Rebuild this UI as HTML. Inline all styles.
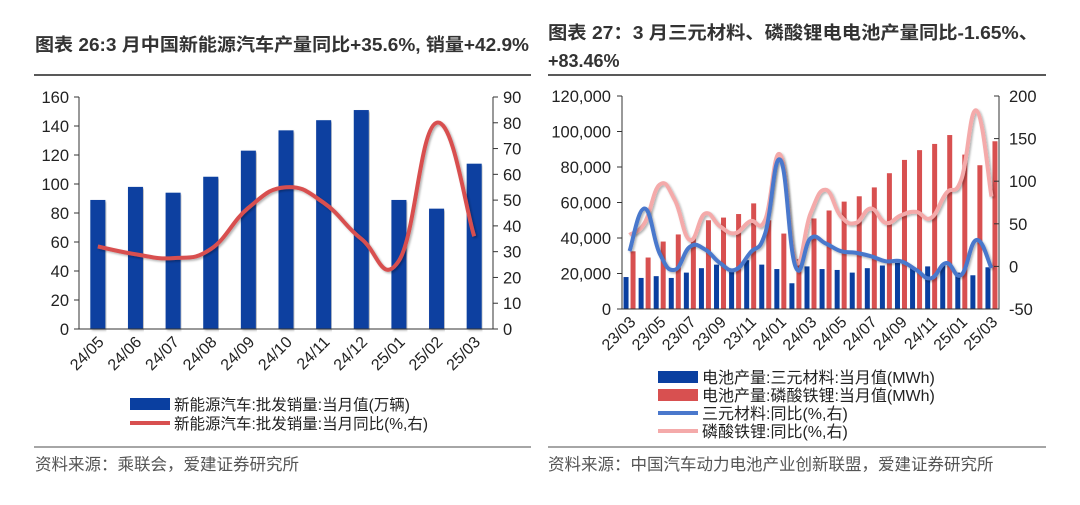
<!DOCTYPE html>
<html><head><meta charset="utf-8">
<style>
html,body{margin:0;padding:0;background:#fff;}
body{width:1080px;height:500px;overflow:hidden;font-family:"Liberation Sans","Noto Sans CJK SC",sans-serif;}
</style></head>
<body>
<svg id="s" width="1080" height="500" xmlns="http://www.w3.org/2000/svg" font-family="Liberation Sans, Noto Sans CJK SC, sans-serif">
<defs><filter id="sh" x="-5%" y="-5%" width="110%" height="120%"><feDropShadow dx="1.5" dy="1.5" stdDeviation="1" flood-color="#000" flood-opacity="0.3"/></filter></defs>
<text x="35" y="51" font-size="18" font-weight="bold" fill="#333" textLength="494" lengthAdjust="spacingAndGlyphs">图表 26:3 月中国新能源汽车产量同比+35.6%, 销量+42.9%</text>
<line x1="34" y1="75" x2="531" y2="75" stroke="#222" stroke-width="1.5"/>
<text x="548" y="39" font-size="18" font-weight="bold" fill="#333" textLength="490" lengthAdjust="spacingAndGlyphs">图表 27：3 月三元材料、磷酸锂电电池产量同比-1.65%、</text>
<text x="548" y="67" font-size="18" font-weight="bold" fill="#333">+83.46%</text>
<line x1="548" y1="75" x2="1046" y2="75" stroke="#222" stroke-width="1.5"/>
<line x1="34" y1="447" x2="531" y2="447" stroke="#888" stroke-width="1.5"/>
<line x1="548" y1="447" x2="1046" y2="447" stroke="#888" stroke-width="1.5"/>
<text x="35" y="470" font-size="16.5" fill="#555">资料来源：乘联会，爱建证券研究所</text>
<text x="548" y="470" font-size="16.5" fill="#555">资料来源：中国汽车动力电池产业创新联盟，爱建证券研究所</text>
<g id="L"></g>
<g id="R"></g>
<g>
<rect x="130" y="398" width="40" height="12" fill="#0a3fa0"/>
<text x="174" y="410" font-size="15.5" fill="#222">新能源汽车:批发销量:当月值(万辆)</text>
<line x1="130" y1="423" x2="170" y2="423" stroke="#d85050" stroke-width="4"/>
<text x="174" y="429" font-size="15.5" fill="#222">新能源汽车:批发销量:当月同比(%,右)</text>
</g>
<g>
<rect x="658" y="371" width="40" height="12" fill="#0a3fa0"/>
<text x="702" y="383" font-size="16" fill="#222">电池产量:三元材料:当月值(MWh)</text>
<rect x="658" y="389" width="40" height="12" fill="#d85050"/>
<text x="702" y="401" font-size="16" fill="#222">电池产量:磷酸铁锂:当月值(MWh)</text>
<line x1="658" y1="413" x2="698" y2="413" stroke="#4a78cc" stroke-width="4"/>
<text x="702" y="419" font-size="16" fill="#222">三元材料:同比(%,右)</text>
<line x1="658" y1="431" x2="698" y2="431" stroke="#f4aaaa" stroke-width="4"/>
<text x="702" y="437" font-size="16" fill="#222">磷酸铁锂:同比(%,右)</text>
</g>
</svg>
<script>
const leftCategories=["24/05","24/06","24/07","24/08","24/09","24/10","24/11","24/12","25/01","25/02","25/03"];
const leftSales=[89,98,94,105,123,137,144,151,89,83,114];
const leftYoy=[32,29,27.5,31,47,55,49,35,26.5,80,36];
const leftTicks=[0,20,40,60,80,100,120,140,160];
const leftRightTicks=[0,10,20,30,40,50,60,70,80,90];

const rightCategories=["23/03","23/04","23/05","23/06","23/07","23/08","23/09","23/10","23/11","23/12","24/01","24/02","24/03","24/04","24/05","24/06","24/07","24/08","24/09","24/10","24/11","24/12","25/01","25/02","25/03"];
const ncmOutput=[18000,17500,18500,17500,20500,23000,25000,22000,27500,25000,22500,14500,24000,22500,22000,20500,23000,24500,26000,23500,24000,25000,20500,19000,23500];
const lfpOutput=[32500,29000,38000,42000,40000,50000,51500,53500,59500,50000,42500,28000,51000,55500,60500,63500,68500,76500,84000,89500,93000,98000,87000,81000,94500];
const ncmYoy=[18,68,15,-4,23,20,4,-4,16,39,125,0,33,27,18,16,12,6,6,-4,-14,4,-10,31,-2];
const lfpYoy=[37,51,96,78,31,62,47,39,53,55,131,6,62,90,59,51,68,51,60,64,57,86,102,183,82];
const rightTicks=[0,20000,40000,60000,80000,100000,120000];
const rightRightTicks=[-50,0,50,100,150,200];
const rightLabelEvery=2;

const NS="http://www.w3.org/2000/svg";
function mk(p,tag,attrs,txt){const e=document.createElementNS(NS,tag);for(const k in attrs)e.setAttribute(k,attrs[k]);if(txt!==undefined)e.textContent=txt;p.appendChild(e);return e;}
function smooth(pts){let d="M"+pts[0][0]+","+pts[0][1];for(let i=0;i<pts.length-1;i++){const p0=pts[Math.max(0,i-1)],p1=pts[i],p2=pts[i+1],p3=pts[Math.min(pts.length-1,i+2)];const t=0.22;d+=" C"+(p1[0]+(p2[0]-p0[0])*t)+","+(p1[1]+(p2[1]-p0[1])*t)+" "+(p2[0]-(p3[0]-p1[0])*t)+","+(p2[1]-(p3[1]-p1[1])*t)+" "+p2[0]+","+p2[1];}return d;}
function fmt(v){return v.toString().replace(/\B(?=(\d{3})+(?!\d))/g,",");}

// LEFT
(function(){
const g=document.getElementById("L");
const x0=79,x1=493,yb=329,yt=97;
const band=(x1-x0)/leftCategories.length;
const y=v=>yb-(v/160)*(yb-yt);
const y2=v=>yb-(v/90)*(yb-yt);
const xc=i=>x0+band*(i+0.5);
leftSales.forEach((v,i)=>{
 const r=mk(g,"rect",{x:xc(i)-7.5,y:y(v),width:15,height:yb-y(v),fill:"#0a3fa0",filter:"url(#sh)"});
 
 
});
const ax=mk(g,"path",{d:`M${x0},${yt} V${yb} H${x1} V${yt}`,fill:"none",stroke:"#333","stroke-width":1});


leftTicks.forEach(v=>{
 mk(g,"line",{x1:x0-5,x2:x0,y1:y(v),y2:y(v),stroke:"#333"});
 const t=mk(g,"text",{x:x0-10,y:y(v)+6,"font-size":16.5,"text-anchor":"end",fill:"#222"},v);
 
 
});
leftRightTicks.forEach(v=>{
 mk(g,"line",{x1:x1,x2:x1+5,y1:y2(v),y2:y2(v),stroke:"#333"});
 const t=mk(g,"text",{x:x1+10,y:y2(v)+6,"font-size":16.5,fill:"#222"},v);
 
 
});
leftCategories.forEach((c,i)=>{
 const t=mk(g,"text",{x:xc(i)+7,y:yb+14,"font-size":16,"text-anchor":"end",fill:"#222",transform:`rotate(-45 ${xc(i)+7} ${yb+14})`},c);
 
 
});
const ln=mk(g,"path",{d:smooth(leftYoy.map((v,i)=>[xc(i),y2(v)])),fill:"none",stroke:"#d85050","stroke-width":4,filter:"url(#sh)"});


})();

// RIGHT
(function(){
const g=document.getElementById("R");
const x0=622,x1=999,yb=309,yt=96;
const band=(x1-x0)/rightCategories.length;
const y=v=>yb-(v/120000)*(yb-yt);
const y2=v=>yb-((v+50)/250)*(yb-yt);
const xc=i=>x0+band*(i+0.5);
rightCategories.forEach((c,i)=>{
 const b=mk(g,"rect",{x:xc(i)-6,y:y(ncmOutput[i]),width:5,height:yb-y(ncmOutput[i]),fill:"#0a3fa0"});
 
 
 const r=mk(g,"rect",{x:xc(i)+1,y:y(lfpOutput[i]),width:5,height:yb-y(lfpOutput[i]),fill:"#d85050"});
 
 
});
const ax=mk(g,"path",{d:`M${x0},${yt} V${yb} H${x1} V${yt}`,fill:"none",stroke:"#333","stroke-width":1});


rightTicks.forEach(v=>{
 mk(g,"line",{x1:x0-5,x2:x0,y1:y(v),y2:y(v),stroke:"#333"});
 const t=mk(g,"text",{x:x0-11,y:y(v)+6,"font-size":16.5,"text-anchor":"end",fill:"#222"},fmt(v));
 
 
});
rightRightTicks.forEach(v=>{
 mk(g,"line",{x1:x1-5,x2:x1,y1:y2(v),y2:y2(v),stroke:"#333"});
 const t=mk(g,"text",{x:x1+10,y:y2(v)+6,"font-size":16.5,fill:"#222"},v);
 
 
});
rightCategories.forEach((c,i)=>{
 if(i%rightLabelEvery)return;
 const t=mk(g,"text",{x:xc(i)+7,y:yb+14,"font-size":16,"text-anchor":"end",fill:"#222",transform:`rotate(-45 ${xc(i)+7} ${yb+14})`},c);
 
 
});
const l2=mk(g,"path",{d:smooth(lfpYoy.map((v,i)=>[xc(i),y2(v)])),fill:"none",stroke:"#f4aaaa","stroke-width":4,filter:"url(#sh)"});


const l1=mk(g,"path",{d:smooth(ncmYoy.map((v,i)=>[xc(i),y2(v)])),fill:"none",stroke:"#4a78cc","stroke-width":4,filter:"url(#sh)"});


})();
</script>
</body></html>
